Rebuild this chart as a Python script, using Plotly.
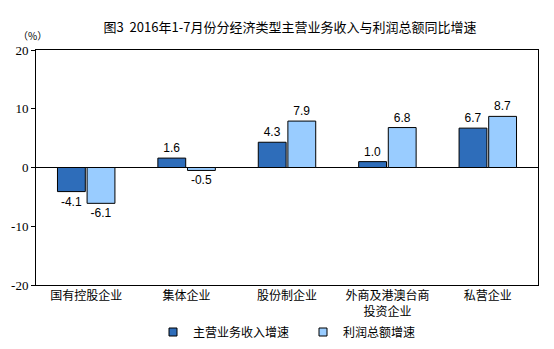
import plotly.graph_objects as go

categories = ["国有控股企业", "集体企业", "股份制企业", "外商及港澳台商<br>投资企业", "私营企业"]
revenue = [-4.1, 1.6, 4.3, 1.0, 6.7]
profit = [-6.1, -0.5, 7.9, 6.8, 8.7]
series_names = ["主营业务收入增速", "利润总额增速"]
colors = ["#2E6DBA", "#99CCFF"]
tick_vals = [-20, -10, 0, 10, 20]
tick_text = ["-20", "-10", "0", "10", "20"]

cjk = "Noto Sans CJK SC"
fig = go.Figure()
for vals, name, col in zip([revenue, profit], series_names, colors):
    fig.add_bar(x=categories, y=vals, name=name, showlegend=False,
                marker=dict(color=col, line=dict(color="black", width=1)),
                text=[f"{v:.1f}" for v in vals], textposition="outside",
                textfont=dict(family="Liberation Sans, Arial", size=12, color="black"),
                cliponaxis=False)
# legend entries with small square markers, each in its own legend box
for name, col, lg in zip(series_names, colors, ["legend", "legend2"]):
    fig.add_scatter(x=[None], y=[None], mode="markers", name=name, showlegend=True,
                    legend=lg,
                    marker=dict(symbol="square", size=8, color=col,
                                line=dict(color="black", width=1)))

leg_common = dict(orientation="h", xanchor="left", xref="container",
                  y=1 - 332 / 349, yanchor="middle", yref="container",
                  font=dict(family=cjk, size=12, color="black"),
                  itemwidth=30, bgcolor="rgba(0,0,0,0)")

fig.update_layout(
    width=554, height=349,
    margin=dict(l=36, r=16, t=50, b=64, autoexpand=False),
    paper_bgcolor="white", plot_bgcolor="white",
    barmode="group", bargap=0.41, bargroupgap=0.06,
    title=dict(text="图3  2016年1-7月份分经济类型主营业务收入与利润总额同比增速",
               x=290 / 554, xanchor="center", y=1 - 27 / 349, yanchor="middle",
               font=dict(family=cjk, size=13, color="black")),
    showlegend=True,
    legend=dict(x=(173 - 20) / 554, **leg_common),
    legend2=dict(x=(323 - 20) / 554, **leg_common),
    xaxis=dict(showline=True, mirror=True, linecolor="black", linewidth=1,
               automargin=False, ticks="",
               tickfont=dict(family=cjk, size=12, color="black")),
    yaxis=dict(range=[-20, 20], tickvals=tick_vals, ticktext=tick_text,
               showgrid=False, automargin=False,
               showline=True, mirror=True, linecolor="black", linewidth=1,
               ticks="outside", ticklen=4, tickcolor="black",
               zeroline=True, zerolinecolor="black", zerolinewidth=1,
               tickfont=dict(family="Liberation Serif", size=13, color="black")),
)
fig.layout.annotations = [dict(text="（%）", x=(32 - 36) / 502, y=1 + 15 / 235,
                               xref="paper", yref="paper",
                               xanchor="center", yanchor="middle", showarrow=False,
                               font=dict(family=cjk, size=10, color="black"))]
fig.write_html("out.html")
